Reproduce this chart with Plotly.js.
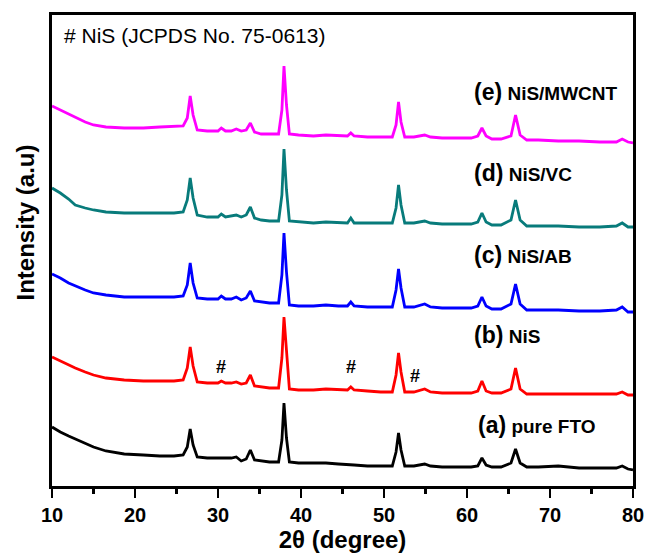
<!DOCTYPE html>
<html><head><meta charset="utf-8">
<script src="https://cdn.plot.ly/plotly-3.0.1.min.js"></script>
<style>html,body{margin:0;padding:0;background:#fff}</style>
</head><body><div id="chart" style="width:646px;height:553px"></div>
<script>
// 2theta positions (degree)
const twoTheta = [10.0,11.0,12.0,12.8,14.0,15.0,16.5,18.7,21.0,23.0,24.7,25.8,26.3,26.65,27.0,27.5,28.7,30.0,30.4,30.9,31.6,32.2,32.8,33.4,33.9,34.4,35.2,36.2,37.3,37.7,37.95,38.25,38.6,39.7,41.5,43.0,44.5,45.6,46.0,46.4,48.0,49.6,51.0,51.45,51.75,52.05,52.5,53.6,54.9,55.6,57.0,58.6,60.5,61.3,61.8,62.3,63.0,64.1,65.3,65.85,66.4,67.2,68.6,71.0,73.5,76.0,78.0,78.7,79.4,80.0];

// Intensities (a.u.), each relative to its own baseline
const pureFTO = [44,39,35,32,27,24,20,17,16,15,15,16,24,42,26,14,13,13,13,13,13,14,10,12,21,11,10,9,9,31,68,33,9,8,8,8,7,6,6,6,5,5,5,19,38,21,5,5,7,5,4,4,4,5,13,6,4,4,8,22,8,4,4,5,3,3,3,5,2,1];
const nisFTO  = [39,35,31,28,24,21,18,16,15,15,15,16,28,49,30,14,13,13,15,13,13,14,12,13,21,10,9,8,8,38,79,41,7,6,6,7,6,6,9,6,5,4,4,21,43,24,4,4,7,4,3,3,3,5,15,5,3,3,7,28,7,2,2,2,2,2,2,4,1,1];
const nisAB   = [39,35,30,27,23,20,18,16,16,16,16,17,28,50,30,15,14,14,17,14,14,16,13,15,22,12,11,10,10,38,80,41,8,7,7,8,7,7,11,7,6,6,6,23,44,25,6,6,9,6,5,5,5,7,16,7,4,4,9,29,9,3,3,3,2,2,3,6,1,1];
const nisVC   = [40,35,29,23,20,18,16,15,15,15,15,16,28,50,30,13,11,11,14,11,12,13,11,13,21,10,8,7,7,33,79,38,7,6,5,6,5,5,10,5,5,5,5,20,43,23,5,5,7,5,4,4,4,6,15,6,3,3,8,28,8,2,2,2,1,1,2,5,1,1];
const nisMWCNT= [38,34,30,26,22,19,17,16,16,17,18,18,26,48,29,14,13,13,16,13,13,15,13,14,21,12,10,10,10,34,78,39,10,9,8,9,8,8,11,8,7,7,7,19,42,22,7,7,9,7,6,6,6,8,16,8,5,5,8,29,9,4,4,3,3,2,2,5,2,1];

const seriesData   = [pureFTO, nisFTO, nisAB, nisVC, nisMWCNT];
const seriesLetter = ['(a)', '(b)', '(c)', '(d)', '(e)'];
const seriesName   = ['pure FTO', 'NiS', 'NiS/AB', 'NiS/VC', 'NiS/MWCNT'];
const seriesColor  = ['#000000', '#ff0000', '#0000ff', '#087b7b', '#ff00ff'];

// NiS reflections marked with '#'
const nisMarks = [30.4, 46.0, 53.7];
const refNote = '# NiS (JCPDS No. 75-0613)';

const FONT = 'Arial, "Liberation Sans", sans-serif';
const stack = [15, 90, 173, 258, 342];      // vertical offsets for stacking
const labelDy = [46, 61, 58, 55, 52];       // label height above each baseline

const traces = seriesData.map((vals, i) => ({
  x: twoTheta,
  y: vals.map(v => v + stack[i]),
  type: 'scatter', mode: 'lines',
  line: {color: seriesColor[i], width: 2.8},
  name: seriesName[i], hoverinfo: 'skip'
}));

const annotations = seriesData.map((_, i) => ({
  x: i === 0 ? 61.05 : 60.58, y: stack[i] + labelDy[i], xref: 'x', yref: 'y',
  xanchor: 'left', yanchor: 'middle', showarrow: false,
  text: '<b><span style="font-size:23px">' + seriesLetter[i] + '</span> ' + seriesName[i] + '</b>',
  font: {family: FONT, size: 19, color: '#000'}
}));
const markY = [119, 119, 110];
nisMarks.forEach((m, k) => annotations.push({
  x: m, y: markY[k], xref: 'x', yref: 'y', showarrow: false,
  text: '<b>#</b>', font: {family: FONT, size: 18, color: '#000'}
}));
annotations.push({
  x: 11.2, y: 451, xref: 'x', yref: 'y', xanchor: 'left', yanchor: 'middle', showarrow: false,
  text: refNote, font: {family: FONT, size: 21, color: '#000'}
});
annotations.push({
  x: -0.046, y: 0.56, xref: 'paper', yref: 'paper', xanchor: 'center', yanchor: 'middle',
  showarrow: false, textangle: -90,
  text: '<b>Intensity (a.u)</b>', font: {family: FONT, size: 24, color: '#000'}
});

const layout = {
  width: 646, height: 553,
  margin: {l: 52, r: 13, t: 15, b: 67},
  paper_bgcolor: '#fff', plot_bgcolor: '#fff',
  showlegend: false,
  font: {family: FONT, color: '#000'},
  xaxis: {
    range: [10, 80], tick0: 10, dtick: 10, ticks: 'outside', ticklen: 9, tickwidth: 2.5,
    tickcolor: '#000', showline: true, linewidth: 3, linecolor: '#000', mirror: true,
    showgrid: false, zeroline: false,
    tickfont: {family: FONT, size: 20, color: '#000', weight: 'bold'},
    minor: {dtick: 5, ticks: 'outside', ticklen: 5, tickwidth: 2.5, tickcolor: '#000', showgrid: false},
    title: {text: '<b>2θ (degree)</b>', font: {family: FONT, size: 24, color: '#000'}, standoff: 6}
  },
  yaxis: {
    range: [0, 471], showticklabels: false, ticks: '', showgrid: false, zeroline: false,
    showline: true, linewidth: 3, linecolor: '#000', mirror: true,
    title: {text: ''}
  },
  annotations: annotations
};

Plotly.newPlot('chart', traces, layout, {displayModeBar: false, staticPlot: true});
</script>
</body></html>
